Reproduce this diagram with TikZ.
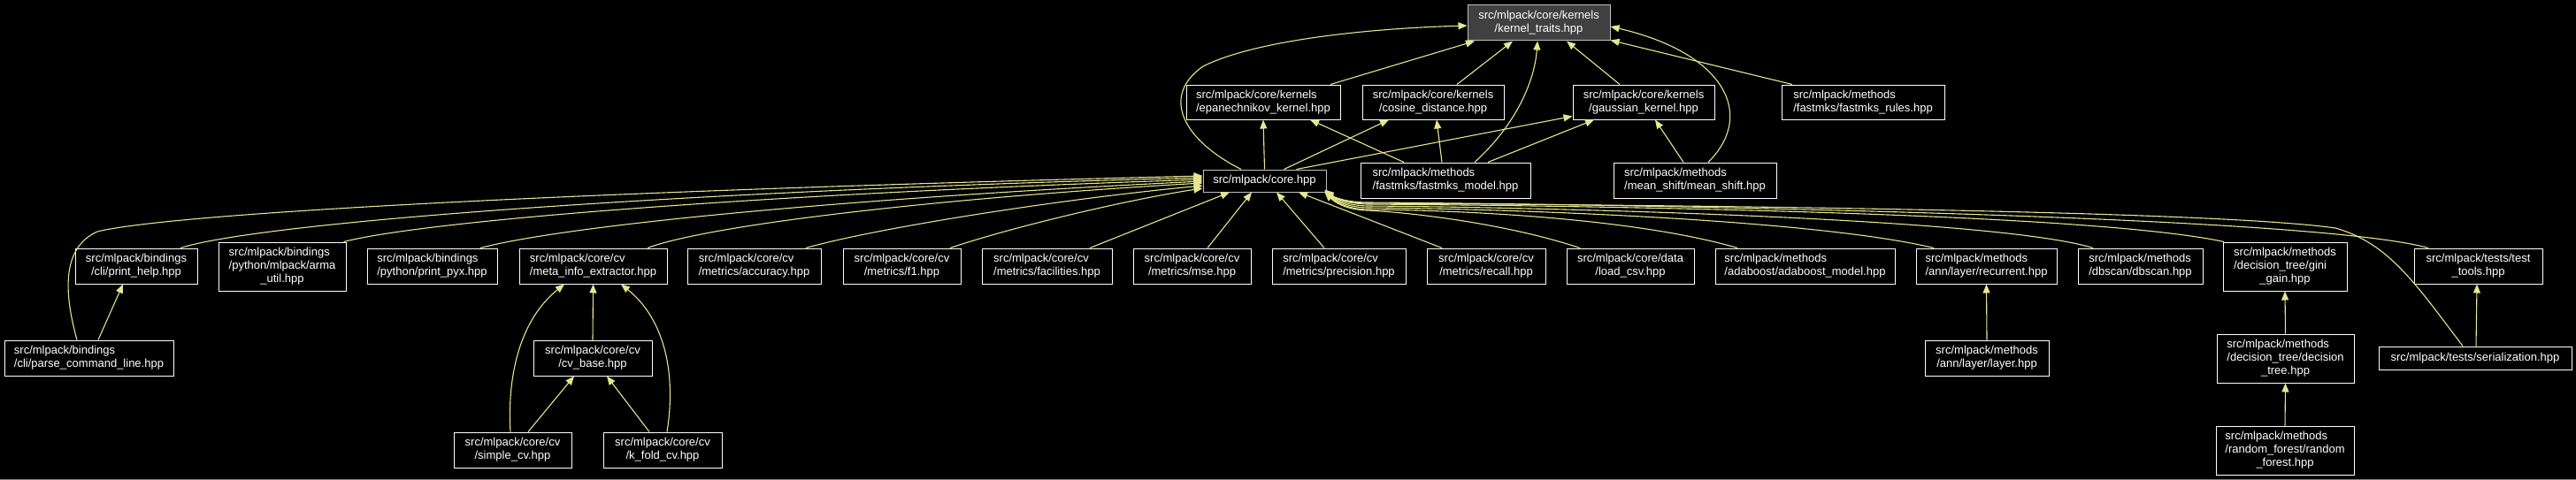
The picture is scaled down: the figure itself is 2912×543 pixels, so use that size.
\documentclass[tikz,border=0pt]{standalone}
\usepackage{fontspec}
\setmainfont{Liberation Sans}
\usetikzlibrary{arrows.meta,calc}
\definecolor{edgecol}{RGB}{230,230,143}
\definecolor{bordergray}{RGB}{191,191,191}
\definecolor{fillgray}{RGB}{64,64,64}
\newcommand{\twol}[2]{\begin{tabular}{@{}l@{}}#1\\\multicolumn{1}{@{}c@{}}{#2}\end{tabular}}
\newcommand{\threel}[3]{\begin{tabular}{@{}l@{}}#1\\#2\\\multicolumn{1}{@{}c@{}}{#3}\end{tabular}}
\tikzset{
  fnode/.style={draw=white, fill=black, text=white, line width=1pt, inner sep=0pt,
    font=\fontsize{13}{15}\selectfont},
  dep/.style={draw=edgecol, line width=1.1pt, -{Triangle[length=10pt,width=8pt,fill=edgecol]}},
}
\begin{document}
\begin{tikzpicture}[x=1pt,y=-1pt]
\fill[black] (0,0) rectangle (2912,543);
\useasboundingbox (0,0) rectangle (2912,543);
\draw[gray, line width=1pt] (0,542.5) -- (2912,542.5);

% row 1
\node[fnode, draw=bordergray, fill=fillgray, minimum width=161pt, minimum height=40pt] (ktraits) at (1739.5,26) {\twol{src/mlpack/core/kernels}{/kernel\_traits.hpp}};
% row 2
\node[fnode, minimum width=174pt, minimum height=39pt] (epan) at (1428,115.5) {\twol{src/mlpack/core/kernels}{/epanechnikov\_kernel.hpp}};
\node[fnode, minimum width=160pt, minimum height=39pt] (cosine) at (1620,115.5) {\twol{src/mlpack/core/kernels}{/cosine\_distance.hpp}};
\node[fnode, minimum width=160pt, minimum height=39pt] (gauss) at (1858,115.5) {\twol{src/mlpack/core/kernels}{/gaussian\_kernel.hpp}};
\node[fnode, minimum width=184pt, minimum height=39pt] (frules) at (2106,115.5) {\twol{src/mlpack/methods}{/fastmks/fastmks\_rules.hpp}};
% row 2b
\node[fnode, draw=bordergray, minimum width=139pt, minimum height=25pt] (core) at (1429.5,204.5) {src/mlpack/core.hpp};
\node[fnode, minimum width=192pt, minimum height=40pt] (fmodel) at (1634,204) {\twol{src/mlpack/methods}{/fastmks/fastmks\_model.hpp}};
\node[fnode, minimum width=184pt, minimum height=40pt] (mshift) at (1916,204) {\twol{src/mlpack/methods}{/mean\_shift/mean\_shift.hpp}};
% row 3
\node[fnode, minimum width=138pt, minimum height=40pt] (phelp) at (154,301) {\twol{src/mlpack/bindings}{/cli/print\_help.hpp}};
\node[fnode, minimum width=144pt, minimum height=55pt] (arma) at (319,301.5) {\threel{src/mlpack/bindings}{/python/mlpack/arma}{\_util.hpp}};
\node[fnode, minimum width=147pt, minimum height=40pt] (pyx) at (488.5,301) {\twol{src/mlpack/bindings}{/python/print\_pyx.hpp}};
\node[fnode, minimum width=167pt, minimum height=40pt] (meta) at (670.5,301) {\twol{src/mlpack/core/cv}{/meta\_info\_extractor.hpp}};
\node[fnode, minimum width=151pt, minimum height=40pt] (acc) at (852.5,301) {\twol{src/mlpack/core/cv}{/metrics/accuracy.hpp}};
\node[fnode, minimum width=133pt, minimum height=40pt] (fone) at (1019.5,301) {\twol{src/mlpack/core/cv}{/metrics/f1.hpp}};
\node[fnode, minimum width=147pt, minimum height=40pt] (facil) at (1183.5,301) {\twol{src/mlpack/core/cv}{/metrics/facilities.hpp}};
\node[fnode, minimum width=133pt, minimum height=40pt] (mse) at (1347.5,301) {\twol{src/mlpack/core/cv}{/metrics/mse.hpp}};
\node[fnode, minimum width=151pt, minimum height=40pt] (prec) at (1513.5,301) {\twol{src/mlpack/core/cv}{/metrics/precision.hpp}};
\node[fnode, minimum width=134pt, minimum height=40pt] (recall) at (1680,301) {\twol{src/mlpack/core/cv}{/metrics/recall.hpp}};
\node[fnode, minimum width=144pt, minimum height=40pt] (loadcsv) at (1843,301) {\twol{src/mlpack/core/data}{/load\_csv.hpp}};
\node[fnode, minimum width=203pt, minimum height=40pt] (ada) at (2040.5,301) {\twol{src/mlpack/methods}{/adaboost/adaboost\_model.hpp}};
\node[fnode, minimum width=159pt, minimum height=40pt] (recur) at (2245.5,301) {\twol{src/mlpack/methods}{/ann/layer/recurrent.hpp}};
\node[fnode, minimum width=141pt, minimum height=40pt] (dbscan) at (2419.5,301) {\twol{src/mlpack/methods}{/dbscan/dbscan.hpp}};
\node[fnode, minimum width=140pt, minimum height=55pt] (gini) at (2583,301.5) {\threel{src/mlpack/methods}{/decision\_tree/gini}{\_gain.hpp}};
\node[fnode, minimum width=145pt, minimum height=40pt] (ttools) at (2801.5,301) {\twol{src/mlpack/tests/test}{\_tools.hpp}};
% row 4
\node[fnode, minimum width=191pt, minimum height=40pt] (parse) at (100.5,405) {\twol{src/mlpack/bindings}{/cli/parse\_command\_line.hpp}};
\node[fnode, minimum width=134pt, minimum height=40pt] (cvbase) at (670,405) {\twol{src/mlpack/core/cv}{/cv\_base.hpp}};
\node[fnode, minimum width=140pt, minimum height=40pt] (layer) at (2246,405) {\twol{src/mlpack/methods}{/ann/layer/layer.hpp}};
\node[fnode, minimum width=155pt, minimum height=55pt] (dtree) at (2583.5,405.5) {\threel{src/mlpack/methods}{/decision\_tree/decision}{\_tree.hpp}};
\node[fnode, minimum width=218pt, minimum height=26pt] (serial) at (2798,405) {src/mlpack/tests/serialization.hpp};
% row 5
\node[fnode, minimum width=133pt, minimum height=40pt] (simple) at (579.5,509) {\twol{src/mlpack/core/cv}{/simple\_cv.hpp}};
\node[fnode, minimum width=134pt, minimum height=40pt] (kfold) at (749,509) {\twol{src/mlpack/core/cv}{/k\_fold\_cv.hpp}};
\node[fnode, minimum width=156pt, minimum height=55pt] (rforest) at (2583,509.5) {\threel{src/mlpack/methods}{/random\_forest/random}{\_forest.hpp}};

% edges to kernel_traits
\draw[dep] ($(core.north)+(-26.5,0)$) .. controls (1340,160) and (1310,110) .. (1360,75) .. controls (1420,45) and (1550,32) .. ($(ktraits.west)+(0,3)$);
\draw[dep] ($(epan.north)+(76,0)$) -- ($(ktraits.south)+(-72.5,0)$);
\draw[dep] ($(cosine.north)+(27,0)$) -- ($(ktraits.south)+(-29.5,0)$);
\draw[dep] ($(fmodel.north)+(33,0)$) .. controls (1715,140) and (1735,90) .. ($(ktraits.south)+(-1.5,0)$);
\draw[dep] ($(gauss.north)+(-27,0)$) -- ($(ktraits.south)+(31.5,0)$);
\draw[dep] ($(frules.north)+(-80,0)$) -- ($(ktraits.south east)+(0,-1)$);
\draw[dep] ($(mshift.north)+(15,0)$) .. controls (1985,130) and (1950,60) .. ($(ktraits.east)+(0,4)$);
% edges to kernels
\draw[dep] (core.north) -- (epan.south);
\draw[dep] ($(core.north)+(22,0)$) -- ($(cosine.south)+(-50,0)$);
\draw[dep] ($(core.north)+(36,0)$) -- ($(gauss.south west)+(0,-4)$);
\draw[dep] ($(fmodel.north)+(-47,0)$) -- ($(epan.south)+(53,0)$);
\draw[dep] ($(fmodel.north)+(-4,0)$) -- ($(cosine.south)+(4,0)$);
\draw[dep] ($(fmodel.north)+(48,0)$) -- ($(gauss.south)+(-56,0)$);
\draw[dep] ($(mshift.north)+(-13,0)$) -- ($(gauss.south)+(13,0)$);
% edges to core.hpp from the left
\draw[dep] ($(parse.north)+(-13.5,0)$) .. controls (72,330) and (70,280) .. (110,262) .. controls (200,240) and (700,215) .. ($(core.west)+(0,-5.5)$);
\draw[dep] ($(phelp.north)+(50,0)$) .. controls (300,250) and (800,215) .. ($(core.west)+(0,-3.5)$);
\draw[dep] ($(arma.north east)+(-3,0)$) .. controls (480,250) and (850,220) .. ($(core.west)+(0,-1.5)$);
\draw[dep] ($(pyx.north)+(54.5,0)$) .. controls (640,255) and (950,225) .. ($(core.west)+(0,0.5)$);
\draw[dep] ($(meta.north)+(61.5,0)$) .. controls (800,255) and (1050,225) .. ($(core.west)+(0,2.5)$);
\draw[dep] ($(acc.north)+(58.5,0)$) .. controls (990,258) and (1200,225) .. ($(core.west)+(0,5.5)$);
\draw[dep] ($(fone.north)+(54.5,0)$) .. controls (1150,255) and (1280,225) .. ($(core.west)+(0,8.5)$);
% edges to core.hpp from below
\draw[dep] ($(facil.north)+(48.5,0)$) -- ($(core.south)+(-39.5,0)$);
\draw[dep] ($(mse.north)+(17.5,0)$) -- ($(core.south)+(-14.5,0)$);
\draw[dep] ($(prec.north)+(-16.5,0)$) -- ($(core.south)+(13.5,0)$);
\draw[dep] ($(recall.north)+(-50,0)$) -- ($(core.south)+(38.5,0)$);
% edges to core.hpp from the right (passing under fastmks_model)
\draw[dep] ($(loadcsv.north)+(-57,0)$) .. controls (1700,252) and (1590,240) .. (1545,238) .. controls (1520,237) and (1508,228) .. ($(core.south east)+(-2,0)$);
\draw[dep] ($(ada.north)+(-76.5,0)$) .. controls (1860,250) and (1680,238) .. (1545,237) .. controls (1520,236) and (1508,227) .. ($(core.south east)+(-2,-0.5)$);
\draw[dep] ($(recur.north)+(-59.5,0)$) .. controls (2050,248) and (1700,236) .. (1545,235) .. controls (1520,234) and (1508,226) .. ($(core.south east)+(-2,-1)$);
\draw[dep] ($(dbscan.north)+(-53.5,0)$) .. controls (2250,245) and (1700,234) .. (1545,233) .. controls (1520,232) and (1508,225) .. ($(core.south east)+(-2,-1.5)$);
\draw[dep] ($(gini.north)+(-69,0)$) .. controls (2350,238) and (1700,232) .. (1545,231) .. controls (1520,230) and (1508,224) .. ($(core.south east)+(-2,-2)$);
\draw[dep] ($(ttools.north)+(-56.5,0)$) .. controls (2600,240) and (1700,230) .. (1545,229) .. controls (1520,228.5) and (1508,223) .. ($(core.south east)+(-2,-2.5)$);
\draw[dep] ($(serial.north)+(-14,0)$) .. controls (2730,320) and (2700,275) .. (2640,258) .. controls (2480,235) and (1700,231) .. (1545,230) .. controls (1520,229.5) and (1508,224) .. ($(core.south east)+(-2,-3)$);
% lower edges
\draw[dep] ($(parse.north)+(10.5,0)$) -- ($(phelp.south)+(-15,0)$);
\draw[dep] (cvbase.north) -- (meta.south);
\draw[dep] ($(simple.north)+(-2.5,0)$) .. controls (573,420) and (590,360) .. ($(meta.south)+(-32.5,0)$);
\draw[dep] ($(kfold.north)+(5,0)$) .. controls (765,420) and (750,360) .. ($(meta.south)+(31.5,0)$);
\draw[dep] ($(simple.north)+(17.5,0)$) -- ($(cvbase.south)+(-21,0)$);
\draw[dep] ($(kfold.north)+(-15,0)$) -- ($(cvbase.south)+(16,0)$);
\draw[dep] (layer.north) -- (recur.south);
\draw[dep] (dtree.north) -- (gini.south);
\draw[dep] (rforest.north) -- (dtree.south);
\draw[dep] ($(serial.north)+(1,0)$) -- ($(ttools.south)+(-1.5,0)$);
\end{tikzpicture}
\end{document}
